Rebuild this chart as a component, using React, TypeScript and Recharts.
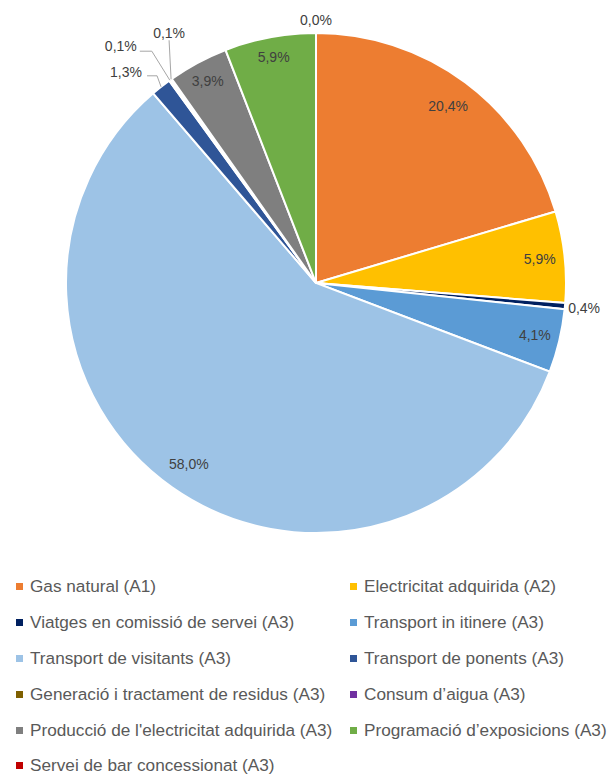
import { PieChart, Pie, Cell, Legend } from "recharts";

const categories = [
  "Gas natural (A1)",
  "Electricitat adquirida (A2)",
  "Viatges en comissió de servei (A3)",
  "Transport in itinere (A3)",
  "Transport de visitants (A3)",
  "Transport de ponents (A3)",
  "Generació i tractament de residus (A3)",
  "Consum d\u2019aigua (A3)",
  "Producció de l'electricitat adquirida (A3)",
  "Programació d\u2019exposicions (A3)",
  "Servei de bar concessionat (A3)",
];

const shares = [20.4, 5.9, 0.4, 4.1, 58.0, 1.3, 0.1, 0.1, 3.9, 5.9, 0.0];

const colors = [
  "#ED7D31",
  "#FFC000",
  "#002060",
  "#5B9BD5",
  "#9DC3E6",
  "#2F5597",
  "#7F6000",
  "#7030A0",
  "#7F7F7F",
  "#70AD47",
  "#C00000",
];

const data = categories.map((name, i) => ({ name, value: shares[i] }));

// label placement per slice: radius factor along the mid ray,
// or leader-line points relative to the slice edge
type Place = { r?: number; line?: number[][]; text?: number[] };
const placement: Place[] = [
  { r: 0.885 },
  { r: 0.9 },
  { r: 1.077 },
  { r: 0.9 },
  { r: 0.885 },
  { line: [[-4, -11], [-14, -11]], text: [-35, -15] },
  { line: [[-18, -29], [-30, -29]], text: [-49, -34] },
  { line: [[-2, -39]], text: [-2, -46] },
  { r: 0.915 },
  { r: 0.92 },
  { r: 1.053 },
];

const RAD = Math.PI / 180;
const fmt = (v: number) => v.toFixed(1).replace(".", ",") + "%";

const renderLabel = (props: any) => {
  const { cx, cy, midAngle, outerRadius, index, value } = props;
  const p = placement[index];
  const cos = Math.cos(-midAngle * RAD);
  const sin = Math.sin(-midAngle * RAD);
  const style = { fontFamily: "Liberation Sans, Arial, sans-serif", fontSize: 14 };
  if (p.line && p.text) {
    const ex = cx + outerRadius * cos;
    const ey = cy + outerRadius * sin;
    const pts = [[ex, ey], ...p.line.map(([dx, dy]) => [ex + dx, ey + dy])];
    return (
      <g key={`lbl-${index}`}>
        <polyline
          points={pts.map((q) => q.join(",")).join(" ")}
          fill="none"
          stroke="#A6A6A6"
          strokeWidth={1}
        />
        <text
          x={ex + p.text[0]}
          y={ey + p.text[1]}
          textAnchor="middle"
          dominantBaseline="central"
          fill="#404040"
          style={style}
        >
          {fmt(value)}
        </text>
      </g>
    );
  }
  const r = outerRadius * (p.r ?? 0.8);
  return (
    <text
      key={`lbl-${index}`}
      x={cx + r * cos}
      y={cy + r * sin}
      textAnchor="middle"
      dominantBaseline="central"
      fill="#404040"
      style={style}
    >
      {fmt(value)}
    </text>
  );
};

const renderLegend = () => (
  <div
    style={{
      display: "grid",
      gridTemplateColumns: "334px 276px",
      fontFamily: "Liberation Sans, Arial, sans-serif",
      fontSize: 17.2,
      color: "#595959",
    }}
  >
    {categories.map((c, i) => (
      <div
        key={c}
        style={{ display: "flex", alignItems: "center", height: 35.8, whiteSpace: "nowrap" }}
      >
        <span
          style={{
            display: "inline-block",
            flexShrink: 0,
            width: 7,
            height: 7,
            background: colors[i],
            marginLeft: 16,
            marginRight: 7,
          }}
        />
        {c}
      </div>
    ))}
  </div>
);

export default function App() {
  return (
    <div style={{ position: "absolute", left: 0, top: 0, width: 610, height: 776, background: "#fff", overflow: "hidden" }}>
      <PieChart width={610} height={776} margin={{ top: 0, right: 0, bottom: 0, left: 0 }}>
        <Pie
          data={data}
          dataKey="value"
          nameKey="name"
          cx={316}
          cy={283}
          outerRadius={250}
          startAngle={90}
          endAngle={-270}
          stroke="#fff"
          strokeWidth={2}
          label={renderLabel}
          labelLine={false}
          isAnimationActive={false}
        >
          {data.map((d, i) => (
            <Cell key={d.name} fill={colors[i]} />
          ))}
        </Pie>
        <Legend
          content={renderLegend}
          wrapperStyle={{ position: "absolute", top: 569, left: 0, width: 610 }}
        />
      </PieChart>
    </div>
  );
}
